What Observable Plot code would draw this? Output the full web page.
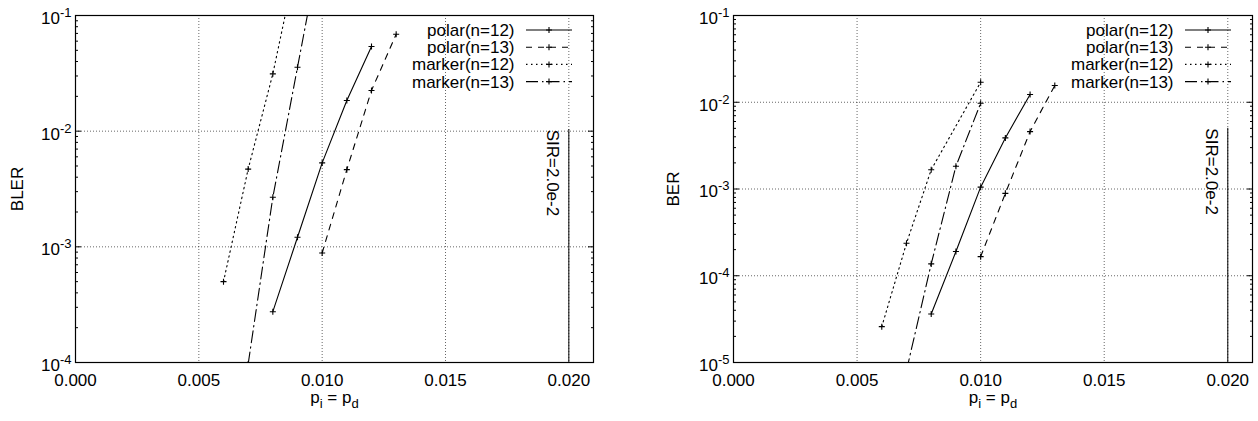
<!DOCTYPE html>
<html><head><meta charset="utf-8">
<script src="https://cdn.jsdelivr.net/npm/d3@7"></script>
<script src="https://cdn.jsdelivr.net/npm/@observablehq/plot@0.6"></script>
<style>
html,body{margin:0;padding:0;background:#fff;}
#wrap{display:flex;width:1258px;height:421px;}
</style></head><body><div id="wrap"></div>
<script>
// ---------- data ----------
const seriesNames = ["polar(n=12)", "polar(n=13)", "marker(n=12)", "marker(n=13)"];

const xPolar12 = [0.008, 0.009, 0.010, 0.011, 0.012];
const xPolar13 = [0.010, 0.011, 0.012, 0.013];
const xMarker12Bler = [0.006, 0.007, 0.008, 0.009];
const xMarker13 = [0.007, 0.008, 0.009, 0.010];
const xMarker12Ber = [0.006, 0.007, 0.008, 0.010];

const blerPolar12 = [2.75e-4, 1.21e-3, 5.32e-3, 1.84e-2, 5.39e-2];
const blerPolar13 = [8.85e-4, 4.65e-3, 2.25e-2, 6.89e-2];
const blerMarker12 = [5.0e-4, 4.7e-3, 3.13e-2, 3.2e-1];
const blerMarker13 = [9.7e-5, 2.68e-3, 3.57e-2, 4.7e-1];

const berPolar12 = [3.62e-5, 1.90e-4, 1.05e-3, 3.88e-3, 1.23e-2];
const berPolar13 = [1.66e-4, 8.9e-4, 4.59e-3, 1.56e-2];
const berMarker12 = [2.59e-5, 2.37e-4, 1.67e-3, 1.70e-2];
const berMarker13 = [8.1e-6, 1.37e-4, 1.83e-3, 9.75e-3];

const xTicks = [0, 0.005, 0.010, 0.015, 0.020];
const xTickLabels = ["0.000", "0.005", "0.010", "0.015", "0.020"];
const blerTicks = [1e-1, 1e-2, 1e-3, 1e-4];
const blerTickLabels = ["10^-1", "10^-2", "10^-3", "10^-4"];
const berTicks = [1e-1, 1e-2, 1e-3, 1e-4, 1e-5];
const berTickLabels = ["10^-1", "10^-2", "10^-3", "10^-4", "10^-5"];

const sirX = 0.020;
const sirLabel = "SIR=2.0e-2";
const sirTopBler = 1.03e-2;
const sirTopBer = 5.0e-3;
const xLabel = "p_i = p_d";

// ---------- styles ----------
const dashes = [null, "6,6", "1.5,3.5", "12,4,1.5,4"];
const FONT = "'Liberation Sans', Arial, Helvetica, sans-serif";
const FS = 17;

function zip(xs, ys) { return xs.map((x, i) => ({x, y: ys[i]})); }

function panel(o) {
  const [yMin, yMax] = o.yDomain;
  const minor = [];
  for (let e = Math.round(Math.log10(yMin)); e < Math.round(Math.log10(yMax)); e++)
    for (let m = 2; m <= 9; m++) minor.push(m * Math.pow(10, e));

  const seriesMarks = [];
  o.series.forEach((s, i) => {
    seriesMarks.push(Plot.line(s, {x: "x", y: "y", stroke: "black", strokeWidth: 1.1,
      strokeDasharray: dashes[i], clip: true}));
    seriesMarks.push(Plot.dot(s, {x: "x", y: "y", symbol: "plus", r: 2.1, stroke: "black",
      strokeWidth: 1.1, clip: true}));
  });

  const svg = Plot.plot({
    width: o.width, height: 421,
    marginLeft: o.marginLeft, marginRight: o.marginRight, marginTop: 15, marginBottom: 59,
    style: {fontFamily: FONT, fontSize: FS + "px", background: "white", color: "black"},
    x: {domain: [0, 0.021]},
    y: {type: "log", domain: o.yDomain},
    marks: [
      Plot.gridX(xTicks.slice(1), {stroke: "#000", strokeOpacity: 0.6, strokeDasharray: "1,2", strokeWidth: 1}),
      Plot.gridY(o.yTicks, {stroke: "#000", strokeOpacity: 0.6, strokeDasharray: "1,2", strokeWidth: 1}),
      Plot.ruleX([{x: sirX, y1: o.sirTop, y2: yMin}], {x: "x", y1: "y1", y2: "y2", stroke: "black", strokeWidth: 1}),
      Plot.text([{x: sirX, y: o.sirTop, t: sirLabel}], {x: "x", y: "y", text: "t", rotate: 90,
        textAnchor: "start", lineAnchor: "middle", dx: -16, fontSize: FS}),
      ...seriesMarks,
      Plot.axisX(xTicks, {anchor: "bottom", tickSize: 0, tickPadding: 11,
        tickFormat: d => xTickLabels[xTicks.indexOf(d)], label: null, fontSize: FS}),
      Plot.axisY(o.yTicks, {anchor: "left", tickSize: 0, tickPadding: 4, dy: 3,
        tickFormat: d => o.yTickLabels[o.yTicks.indexOf(d)], label: null, fontSize: FS}),
      Plot.axisY(o.yTicks, {anchor: "left", tickSize: -6, tickFormat: () => "", label: null}),
      Plot.axisY(o.yTicks, {anchor: "right", tickSize: -6, tickFormat: () => "", label: null}),
      Plot.axisY(minor, {anchor: "left", tickSize: -3, tickFormat: () => "", label: null}),
      Plot.axisY(minor, {anchor: "right", tickSize: -3, tickFormat: () => "", label: null}),
      Plot.text([o.yLabel], {frameAnchor: "left", rotate: -90, dx: o.yLabelDx, text: d => d,
        textAnchor: "middle", lineAnchor: "middle", fontSize: FS}),
      Plot.text([xLabel], {frameAnchor: "bottom", dy: 35, text: d => d,
        textAnchor: "middle", lineAnchor: "middle", fontSize: FS}),
      Plot.frame({stroke: "black", strokeWidth: 1.2})
    ]
  });

  // superscripts on y tick labels, subscripts on x label
  d3.select(svg).selectAll("text").each(function() {
    const t = this.textContent;
    if (/^10\^/.test(t)) {
      const [base, exp] = t.split("^");
      const sel = d3.select(this);
      sel.text(null);
      sel.append("tspan").text(base);
      sel.append("tspan").attr("dy", "-7").attr("font-size", "13").text(exp);
    } else if (t === xLabel) {
      const sel = d3.select(this);
      sel.text(null);
      const parts = t.split(/(_\w)/).filter(p => p.length);
      let low = false;
      parts.forEach(p => {
        if (p[0] === "_") {
          sel.append("tspan").attr("dy", low ? 0 : 5).attr("font-size", "13").text(p.slice(1));
          low = true;
        } else {
          sel.append("tspan").attr("dy", low ? -5 : 0).text(p);
          low = false;
        }
      });
    }
  });

  // legend
  const fr = o.width - o.marginRight;
  const g = d3.select(svg).append("g").attr("font-family", FONT).attr("font-size", FS);
  seriesNames.forEach((name, i) => {
    const y = 30 + i * 17.2;
    g.append("text").attr("x", fr - 78.5).attr("y", y).attr("dy", "0.35em")
      .attr("text-anchor", "end").attr("fill", "black").text(name);
    g.append("line").attr("x1", fr - 67).attr("x2", fr - 21).attr("y1", y).attr("y2", y)
      .attr("stroke", "black").attr("stroke-width", 1.1).attr("stroke-dasharray", dashes[i]);
    const px = fr - 44;
    g.append("path").attr("d", `M${px - 3},${y}H${px + 3}M${px},${y - 3}V${y + 3}`)
      .attr("stroke", "black").attr("stroke-width", 1.1);
  });
  return svg;
}

const wrap = document.getElementById("wrap");
wrap.appendChild(panel({
  width: 629, marginLeft: 75, marginRight: 36,
  yDomain: [1e-4, 1e-1], yTicks: blerTicks, yTickLabels: blerTickLabels,
  yLabel: "BLER", yLabelDx: -58, sirTop: sirTopBler,
  series: [zip(xPolar12, blerPolar12), zip(xPolar13, blerPolar13),
           zip(xMarker12Bler, blerMarker12), zip(xMarker13, blerMarker13)]
}));
wrap.appendChild(panel({
  width: 629, marginLeft: 104, marginRight: 6,
  yDomain: [1e-5, 1e-1], yTicks: berTicks, yTickLabels: berTickLabels,
  yLabel: "BER", yLabelDx: -60, sirTop: sirTopBer,
  series: [zip(xPolar12, berPolar12), zip(xPolar13, berPolar13),
           zip(xMarker12Ber, berMarker12), zip(xMarker13, berMarker13)]
}));
</script></body></html>
